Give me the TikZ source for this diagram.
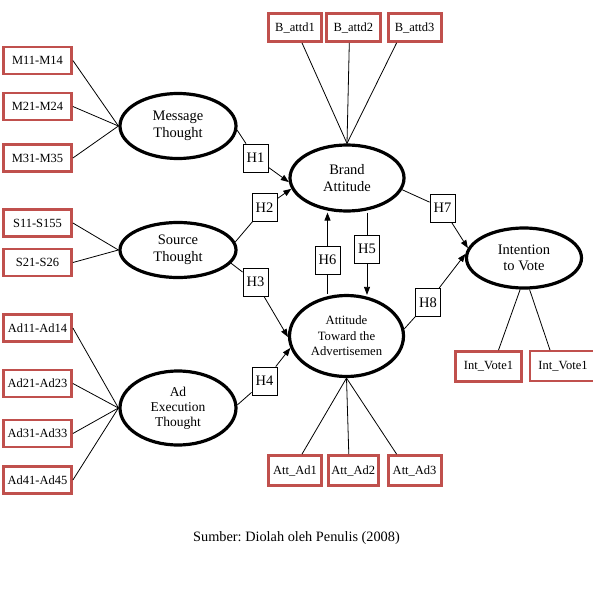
\documentclass[tikz,border=0pt]{standalone}
\usepackage{fontspec}
\setmainfont{Liberation Serif}
\usetikzlibrary{arrows.meta, positioning, shapes.geometric}
\definecolor{indred}{RGB}{192, 80, 77}
\frenchspacing
\tikzset{
    latent/.style = {ellipse, draw, line width=3.2pt, fill=white, align=center, inner sep=0pt, font=\fontsize{14.5}{16.5}\selectfont},
    indicator/.style = {rectangle, draw=indred, line width=2.8pt, fill=white, inner sep=0pt, minimum width=68pt, minimum height=27pt, font=\fontsize{12.5}{13}\selectfont},
    hyp/.style = {rectangle, draw, line width=0.8pt, fill=white, inner sep=0pt, minimum width=25pt, minimum height=28pt, font=\fontsize{14.5}{14.5}\selectfont},
    link/.style = {line width=0.8pt},
    effect/.style = {link, -{Triangle[length=8pt, width=6pt]}}
}
\begin{document}
\begin{tikzpicture}[x=1pt, y=-1pt]
  \useasboundingbox (0,0) rectangle (593,605);

  % latent variables
  \node[latent, minimum width=116pt, minimum height=65pt] (msg) at (178,126) {Message\\Thought};
  \node[latent, minimum width=116pt, minimum height=55pt] (src) at (178,250) {Source\\Thought};
  \node[latent, minimum width=116pt, minimum height=74pt, font=\fontsize{13.5}{15}\selectfont] (adex) at (178,408) {Ad\\Execution\\Thought};
  \node[latent, minimum width=114pt, minimum height=66pt] (brand) at (347,178) {Brand\\Attitude};
  \node[latent, minimum width=114pt, minimum height=81pt, font=\fontsize{12.7}{15.5}\selectfont] (attad) at (346.5,336) {Attitude\\Toward the\\Advertisemen};
  \node[latent, minimum width=115pt, minimum height=60pt] (intent) at (524,258) {Intention\\to Vote};

  % indicators
  \node[indicator] (m1) at (37.5,60.5) {M11-M14};
  \node[indicator] (m2) at (37.5,106.5) {M21-M24};
  \node[indicator] (m3) at (37.5,158) {M31-M35};
  \node[indicator] (s1) at (37.5,223) {S11-S155};
  \node[indicator] (s2) at (37.5,262.5) {S21-S26};
  \node[indicator] (ad1) at (37.5,328) {Ad11-Ad14};
  \node[indicator] (ad2) at (37.5,383.5) {Ad21-Ad23};
  \node[indicator] (ad3) at (37.5,433.5) {Ad31-Ad33};
  \node[indicator] (ad4) at (37.5,480) {Ad41-Ad45};

  \node[indicator, minimum width=53pt, minimum height=28pt] (b1) at (295,27.5) {B\_attd1};
  \node[indicator, minimum width=54pt, minimum height=28pt, right=2pt of b1] (b2) {B\_attd2};
  \node[indicator, minimum width=53pt, minimum height=28pt, right=5pt of b2] (b3) {B\_attd3};

  \node[indicator, minimum width=53pt, minimum height=30pt] (a1) at (295,470.5) {Att\_Ad1};
  \node[indicator, minimum width=50pt, minimum height=30pt, right=4pt of a1] (a2) {Att\_Ad2};
  \node[indicator, minimum width=53pt, minimum height=30pt, right=7pt of a2] (a3) {Att\_Ad3};

  \node[indicator, minimum width=66pt, minimum height=30pt] (v1) at (488.5,366.5) {Int\_Vote1};
  \node[indicator, line width=2pt, minimum width=66pt, minimum height=30pt] (v2) at (563,366) {Int\_Vote1};

  % hypotheses
  \node[hyp] (h1) at (255.5,158) {H1};
  \node[hyp] (h2) at (264.5,207.5) {H2};
  \node[hyp] (h3) at (255.5,282) {H3};
  \node[hyp] (h4) at (264.5,381) {H4};
  \node[hyp] (h5) at (367,249) {H5};
  \node[hyp] (h6) at (327.5,260) {H6};
  \node[hyp] (h7) at (442.5,208) {H7};
  \node[hyp] (h8) at (428,302.5) {H8};

  % measurement links
  \foreach \i in {m1, m2, m3}
    \draw[link] (\i.east) -- (msg.west);
  \foreach \i in {s1, s2}
    \draw[link] (\i.east) -- (src.west);
  \foreach \i in {ad1, ad2, ad3, ad4}
    \draw[link] (\i.east) -- (adex.west);
  \draw[link] ([xshift=7pt]b1.south) -- (brand.north);
  \draw[link] ([xshift=-4pt]b2.south) -- (brand.north);
  \draw[link] ([xshift=-18pt]b3.south) -- (brand.north);
  \draw[link] (attad.south) -- ([xshift=7pt]a1.north);
  \draw[link] (attad.south) -- ([xshift=-4.5pt]a2.north);
  \draw[link] (attad.south) -- ([xshift=-18pt]a3.north);
  \draw[link] (intent.263) -- ([xshift=10pt]v1.north);
  \draw[link] (intent.280) -- ([xshift=-13pt]v2.north);

  % structural paths
  \draw[link] (msg.-4) -- (h1);
  \draw[effect] (h1) -- (brand.184);
  \draw[link] (src.8) -- (h2);
  \draw[effect] (h2) -- (brand.191);
  \draw[link] (src.-14) -- (h3);
  \draw[effect] (h3) -- (attad.181);
  \draw[link] (adex.3) -- (h4);
  \draw[effect] (h4) -- (attad.192);
  \draw[link] (attad.north -| h6) -- (h6);
  \draw[effect] (h6) -- (brand.south -| h6.north);
  \draw[link] (brand.south -| h5) -- (h5);
  \draw[effect] (h5) -- ([yshift=-1pt]attad.north -| h5.south);
  \draw[link] (brand.-12) -- (h7);
  \draw[effect] (h7) -- (intent.170);
  \draw[link] (attad.7) -- (h8);
  \draw[effect] (h8) -- (intent.176);

  \node[font=\fontsize{14.3}{15}\selectfont] (src note) at (296.5,538) {Sumber: Diolah oleh Penulis (2008)};
\end{tikzpicture}
\end{document}
